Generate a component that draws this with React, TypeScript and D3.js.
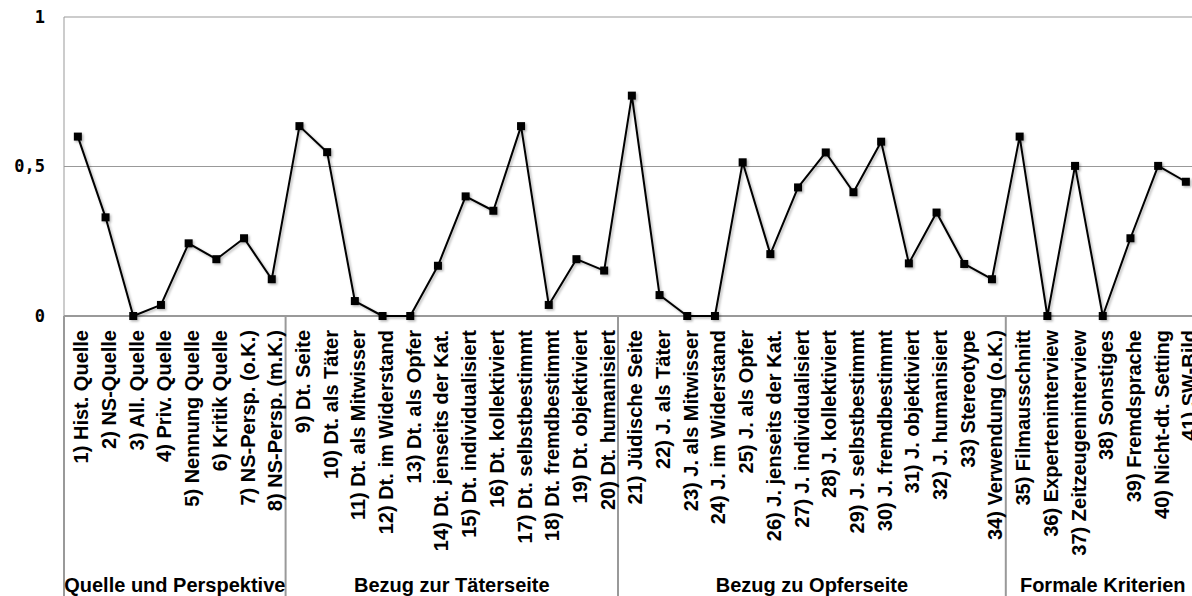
import { useEffect, useRef } from "react";
import { select, scaleBand, scaleLinear, line } from "d3";

// Categories (x axis), grouped
const categories = [
  "1) Hist. Quelle",
  "2) NS-Quelle",
  "3) All. Quelle",
  "4) Priv. Quelle",
  "5) Nennung Quelle",
  "6) Kritik Quelle",
  "7) NS-Persp. (o.K.)",
  "8) NS-Persp. (m.K.)",
  "9) Dt. Seite",
  "10) Dt. als Täter",
  "11) Dt. als Mitwisser",
  "12) Dt. im Widerstand",
  "13) Dt. als Opfer",
  "14) Dt. jenseits der Kat.",
  "15) Dt. individualisiert",
  "16) Dt. kollektiviert",
  "17) Dt. selbstbestimmt",
  "18) Dt. fremdbestimmt",
  "19) Dt. objektiviert",
  "20) Dt. humanisiert",
  "21) Jüdische Seite",
  "22) J. als Täter",
  "23) J. als Mitwisser",
  "24) J. im Widerstand",
  "25) J. als Opfer",
  "26) J. jenseits der Kat.",
  "27) J. individualisiert",
  "28) J. kollektiviert",
  "29) J. selbstbestimmt",
  "30) J. fremdbestimmt",
  "31) J. objektiviert",
  "32) J. humanisiert",
  "33) Stereotype",
  "34) Verwendung (o.K.)",
  "35) Filmausschnitt",
  "36) Experteninterview",
  "37) Zeitzeugeninterview",
  "38) Sonstiges",
  "39) Fremdsprache",
  "40) Nicht-dt. Setting",
  "41) SW-Bild",
];

const values = [
  0.6, 0.33, 0, 0.037, 0.243, 0.19, 0.26, 0.123,
  0.635, 0.548, 0.05, 0, 0, 0.168, 0.4, 0.352, 0.635, 0.037, 0.19, 0.152,
  0.737, 0.07, 0, 0, 0.514, 0.207, 0.43, 0.547, 0.414, 0.583, 0.176, 0.346,
  0.174, 0.123,
  0.6, 0, 0.502, 0, 0.26, 0.502, 0.449,
];

const groups = [
  "Quelle und Perspektive",
  "Bezug zur Täterseite",
  "Bezug zu Opferseite",
  "Formale Kriterien",
];
const groupSizes = [8, 12, 14, 7];

const yTicks = [0, 0.5, 1];
const yTickLabels = ["0", "0,5", "1"];

export default function App() {
  const svgRef = useRef<SVGSVGElement | null>(null);

  useEffect(() => {
    const width = 1192;
    const height = 596;
    const left = 64;
    const bandW = 27.7;

    const svg = select(svgRef.current)
      .attr("width", width)
      .attr("height", height);
    svg.selectAll("*").remove();

    // Scales
    const xScale = scaleBand<string>()
      .domain(categories)
      .range([left, left + categories.length * bandW])
      .paddingInner(0)
      .paddingOuter(0);
    const yScale = scaleLinear().domain([0, 1]).range([316, 17]);
    const xc = (c: string) => (xScale(c) as number) + xScale.bandwidth() / 2;
    const [x0, x1] = xScale.range();

    // shadow for the series
    const defs = svg.append("defs");
    defs
      .append("filter")
      .attr("id", "shadow")
      .attr("x", "-20%")
      .attr("y", "-20%")
      .attr("width", "140%")
      .attr("height", "140%")
      .append("feDropShadow")
      .attr("dx", 1.5)
      .attr("dy", 1.5)
      .attr("stdDeviation", 1)
      .attr("flood-color", "#000")
      .attr("flood-opacity", 0.3);

    // Gridlines
    svg
      .selectAll(".grid")
      .data(yTicks.filter((t) => t > 0))
      .join("line")
      .attr("x1", x0)
      .attr("x2", x1)
      .attr("y1", (d) => yScale(d))
      .attr("y2", (d) => yScale(d))
      .attr("stroke", "#999")
      .attr("stroke-width", 1);

    // left axis line
    svg
      .append("line")
      .attr("x1", x0)
      .attr("x2", x0)
      .attr("y1", yScale(1))
      .attr("y2", yScale(0))
      .attr("stroke", "#999")
      .attr("stroke-width", 1);

    // y tick labels
    svg
      .selectAll(".ylab")
      .data(yTicks)
      .join("text")
      .attr("x", 45)
      .attr("y", (d) => yScale(d))
      .attr("dy", "0.35em")
      .attr("text-anchor", "end")
      .attr("font-family", "'DejaVu Sans Mono', monospace")
      .attr("font-weight", "bold")
      .attr("font-size", 17)
      .attr("fill", "#000")
      .text((_, i) => yTickLabels[i]);

    // x axis line
    svg
      .append("line")
      .attr("x1", x0)
      .attr("x2", x1)
      .attr("y1", yScale(0))
      .attr("y2", yScale(0))
      .attr("stroke", "#999")
      .attr("stroke-width", 2);

    // group separators
    const bounds: number[] = [0];
    groupSizes.forEach((n, i) => bounds.push(bounds[i] + n));
    const boundX = (i: number) =>
      i < categories.length ? (xScale(categories[i]) as number) : x1;
    svg
      .selectAll(".sep")
      .data(bounds)
      .join("line")
      .attr("x1", (d) => boundX(d))
      .attr("x2", (d) => boundX(d))
      .attr("y1", yScale(0))
      .attr("y2", height)
      .attr("stroke", "#999")
      .attr("stroke-width", 2);

    // category labels
    svg
      .selectAll(".xlab")
      .data(categories)
      .join("text")
      .attr(
        "transform",
        (d) => `translate(${xc(d) + 10.5},330) rotate(-90)`
      )
      .attr("text-anchor", "end")
      .attr("font-family", "'Liberation Sans', Arial, sans-serif")
      .attr("font-weight", "bold")
      .attr("font-size", 20)
      .attr("fill", "#000")
      .text((d) => d);

    // group labels
    svg
      .selectAll(".glab")
      .data(groups)
      .join("text")
      .attr("x", (_, i) => (boundX(bounds[i]) + boundX(bounds[i + 1])) / 2)
      .attr("y", 592)
      .attr("text-anchor", "middle")
      .attr("font-family", "'Liberation Sans', Arial, sans-serif")
      .attr("font-weight", "bold")
      .attr("font-size", 20)
      .attr("fill", "#000")
      .text((d) => d);

    // series
    const data = categories.map((c, i) => ({ c, v: values[i] }));
    const seriesLine = line<{ c: string; v: number }>()
      .x((d) => xc(d.c))
      .y((d) => yScale(d.v));

    const g = svg.append("g").attr("filter", "url(#shadow)");
    g.append("path")
      .datum(data)
      .attr("d", seriesLine)
      .attr("fill", "none")
      .attr("stroke", "#000")
      .attr("stroke-width", 2)
      .attr("stroke-linejoin", "round");

    g.selectAll(".marker")
      .data(data)
      .join("rect")
      .attr("x", (d) => xc(d.c) - 4)
      .attr("y", (d) => yScale(d.v) - 4)
      .attr("width", 8)
      .attr("height", 8)
      .attr("fill", "#000");
  }, []);

  return (
    <svg
      ref={svgRef}
      style={{ position: "absolute", left: 0, top: 0, background: "#fff" }}
    />
  );
}
